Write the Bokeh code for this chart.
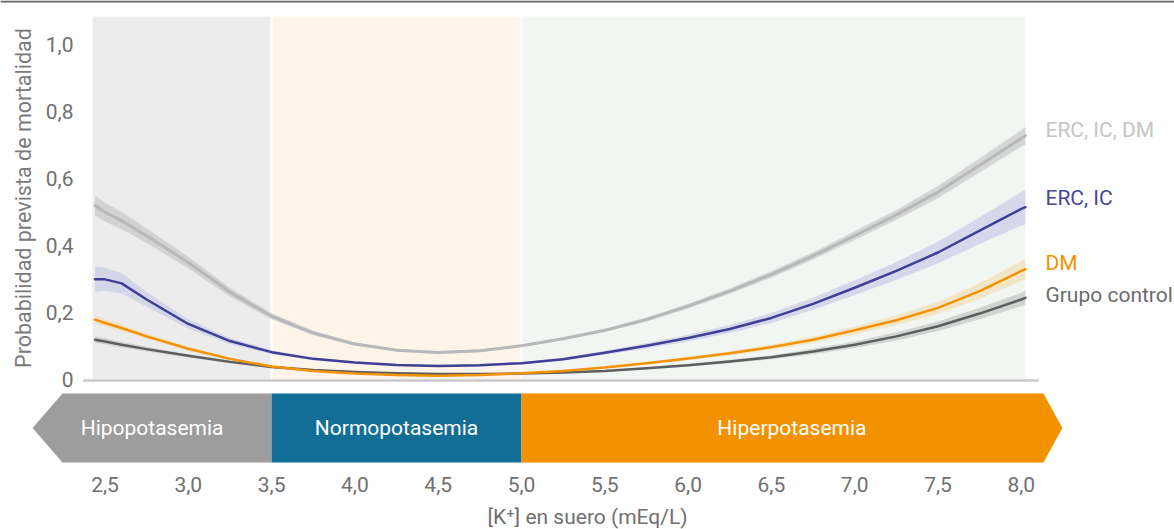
import math
from bokeh.plotting import figure
from bokeh.models import Range1d, FixedTicker, ColumnDataSource, Span
from bokeh.core.properties import value
from bokeh.embed import file_html
from bokeh.resources import INLINE

# ---------------- data ----------------
k = [2.44, 2.5, 2.6, 2.75, 3.0, 3.25, 3.5, 3.75, 4.0, 4.25, 4.5, 4.75, 5.0,
     5.25, 5.5, 5.75, 6.0, 6.25, 6.5, 6.75, 7.0, 7.25, 7.5, 7.75, 8.0, 8.025]

erc_ic_dm = [0.52, 0.50, 0.475, 0.43, 0.35, 0.262, 0.19, 0.14, 0.107, 0.089, 0.082, 0.087, 0.102,
             0.123, 0.148, 0.18, 0.22, 0.265, 0.315, 0.37, 0.43, 0.492, 0.56, 0.64, 0.72, 0.728]
erc_ic_dm_ci = [0.03, 0.028, 0.026, 0.022, 0.017, 0.013, 0.009, 0.007, 0.005, 0.004, 0.004, 0.004, 0.004,
                0.004, 0.005, 0.006, 0.007, 0.008, 0.01, 0.011, 0.013, 0.015, 0.018, 0.021, 0.025, 0.026]

erc_ic = [0.30, 0.30, 0.288, 0.24, 0.167, 0.116, 0.083, 0.063, 0.052, 0.045, 0.042, 0.044, 0.05,
          0.062, 0.081, 0.102, 0.125, 0.152, 0.185, 0.227, 0.275, 0.325, 0.38, 0.445, 0.51, 0.515]
erc_ic_ci = [0.038, 0.035, 0.03, 0.022, 0.014, 0.009, 0.006, 0.004, 0.003, 0.003, 0.003, 0.003, 0.003,
             0.004, 0.006, 0.008, 0.01, 0.012, 0.015, 0.018, 0.022, 0.027, 0.032, 0.04, 0.05, 0.051]

dm = [0.18, 0.17, 0.155, 0.13, 0.093, 0.063, 0.04, 0.027, 0.019, 0.015, 0.013, 0.015, 0.02,
      0.027, 0.037, 0.05, 0.064, 0.08, 0.098, 0.12, 0.148, 0.178, 0.215, 0.265, 0.325, 0.33]
dm_ci = [0.012, 0.011, 0.01, 0.008, 0.006, 0.004, 0.003, 0.002, 0.002, 0.002, 0.002, 0.002, 0.002,
         0.002, 0.003, 0.004, 0.005, 0.006, 0.008, 0.01, 0.012, 0.015, 0.018, 0.023, 0.03, 0.031]

control = [0.12, 0.115, 0.105, 0.092, 0.072, 0.054, 0.039, 0.03, 0.024, 0.02, 0.018, 0.018, 0.019,
           0.022, 0.027, 0.035, 0.044, 0.055, 0.068, 0.085, 0.105, 0.13, 0.16, 0.198, 0.24, 0.245]
control_ci = [0.01, 0.009, 0.008, 0.007, 0.005, 0.004, 0.003, 0.002, 0.002, 0.002, 0.002, 0.002, 0.002,
              0.002, 0.002, 0.003, 0.004, 0.005, 0.006, 0.008, 0.01, 0.012, 0.014, 0.017, 0.02, 0.021]

series_names = ["ERC, IC, DM", "ERC, IC", "DM", "Grupo control"]

zone_names = ["Hipopotasemia", "Normopotasemia", "Hiperpotasemia"]
zone_low = 3.5
zone_high = 5.0

x_ticks = [2.5, 3.0, 3.5, 4.0, 4.5, 5.0, 5.5, 6.0, 6.5, 7.0, 7.5, 8.0]
x_tick_labels = ["2,5", "3,0", "3,5", "4,0", "4,5", "5,0", "5,5", "6,0", "6,5", "7,0", "7,5", "8,0"]
y_ticks = [0, 0.2, 0.4, 0.6, 0.8, 1.0]
y_tick_labels = ["0", "0,2", "0,4", "0,6", "0,8", "1,0"]

# ---------------- styles / layout constants ----------------
FONT = "Roboto"
TICK_COLOR = "#707070"
line_colors = ["#b8b8b8", "#3f3f96", "#f39200", "#5e5e5e"]
line_widths = [3, 2.5, 2.5, 2.5]
band_colors = ["#c4c4c4", "#c9cce8", "#f3dcae", "#c2c7c3"]
band_alphas = [0.65, 0.7, 0.6, 0.7]
label_colors = ["#c4c4c4", "#46469a", "#f39200", "#6b6b6b"]
bg_colors = ["#ececec", "#fef4e9", "#f1f6f2"]
zone_colors = ["#9d9d9d", "#136e96", "#f39200"]

W, H = 1174, 529
x_start, x_end = 1.8727, 8.9196
y_start, y_end = -0.4456, 1.1311
bg_left, bg_right, bg_top = 2.419, 8.028, 1.0864
axis_right = 8.104
label_x = 8.145
series_label_y = [0.744, 0.541, 0.350, 0.252]
band_bottom, band_top = -0.2459, -0.0402
xaxis_y = -0.2578
ytitle_x, ytitle_y = 2.008, 0.5425
tip = 0.18
arrow_left = 2.245
arrow_right = 8.133

p = figure(width=W, height=H, output_backend="svg", toolbar_location=None,
           x_range=Range1d(x_start, x_end), y_range=Range1d(y_start, y_end),
           min_border_left=0, min_border_right=0, min_border_top=0, min_border_bottom=0)
p.outline_line_color = None
p.grid.visible = False
p.background_fill_color = "white"
p.border_fill_color = "white"

# background zones
p.quad(left=[bg_left, zone_low, zone_high], right=[zone_low, zone_high, bg_right],
       bottom=[0.0, 0.0, 0.0], top=[bg_top] * 3, fill_color=bg_colors,
       line_color="white", line_width=2)

all_series = [erc_ic_dm, erc_ic, dm, control]
all_ci = [erc_ic_dm_ci, erc_ic_ci, dm_ci, control_ci]
for vals, ci, bc, ba in zip(all_series, all_ci, band_colors, band_alphas):
    lower = [v - c for v, c in zip(vals, ci)]
    upper = [v + c for v, c in zip(vals, ci)]
    p.varea(x=k, y1=lower, y2=upper, fill_color=bc, fill_alpha=ba)

for idx in [0, 1, 3, 2]:
    p.line(k, all_series[idx], line_color=line_colors[idx], line_width=line_widths[idx],
           line_cap="round", line_join="round")

# x axis baseline of the plot area
p.segment(x0=[bg_left - 0.05], y0=[-0.0015], x1=[axis_right], y1=[-0.0015],
          line_color="#c9c9c9", line_width=2.5)

# top rule
p.add_layout(Span(location=y_end - 1.0 / 335.5, dimension="width", line_color="#666666", line_width=2))

lab_src = ColumnDataSource(dict(x=[label_x] * 4, y=series_label_y, t=series_names, c=label_colors))
p.text(x="x", y="y", text="t", text_color="c", source=lab_src, text_font=value(FONT),
       text_font_size="21px", text_align="left", text_baseline="middle")

# y title
p.text(x=[ytitle_x], y=[ytitle_y], text=["Probabilidad prevista de mortalidad"], angle=math.pi / 2,
       text_color="#7a7a7a", text_font=value(FONT), text_font_size="21.5px",
       text_align="center", text_baseline="middle")

# zone arrows
xs = [[arrow_left - tip, arrow_left, zone_low, zone_low, arrow_left],
      [zone_low, zone_high, zone_high, zone_low],
      [zone_high, arrow_right, arrow_right + tip * 0.63, arrow_right, zone_high]]
bm = (band_top + band_bottom) / 2
ys = [[bm, band_top, band_top, band_bottom, band_bottom],
      [band_top, band_top, band_bottom, band_bottom],
      [band_top, band_top, bm, band_bottom, band_bottom]]
p.patches(xs=xs, ys=ys, fill_color=zone_colors, line_color=None)

zone_centers = [(arrow_left - tip + zone_low) / 2, (zone_low + zone_high) / 2,
                (zone_high + arrow_right + tip * 0.63) / 2]
p.text(x=zone_centers, y=[bm] * 3, text=zone_names, text_color="white",
       text_font=value(FONT), text_font_size="21px", text_align="center", text_baseline="middle")

# axes at fixed locations inside the frame
p.yaxis.fixed_location = bg_left
p.yaxis.ticker = FixedTicker(ticks=y_ticks)
p.yaxis.major_label_overrides = {t: l for t, l in zip(y_ticks, y_tick_labels)}
p.yaxis.axis_line_color = None
p.yaxis.major_tick_line_color = None
p.yaxis.minor_tick_line_color = None
p.yaxis.major_label_standoff = 12
p.yaxis.major_label_text_font = FONT
p.yaxis.major_label_text_font_size = "21px"
p.yaxis.major_label_text_color = TICK_COLOR

p.xaxis.fixed_location = xaxis_y
p.xaxis.ticker = FixedTicker(ticks=x_ticks)
p.xaxis.major_label_overrides = {t: l for t, l in zip(x_ticks, x_tick_labels)}
p.xaxis.axis_line_color = None
p.xaxis.major_tick_line_color = None
p.xaxis.minor_tick_line_color = None
p.xaxis.major_label_standoff = 5
p.xaxis.major_label_text_font = FONT
p.xaxis.major_label_text_font_size = "21px"
p.xaxis.major_label_text_color = TICK_COLOR
p.xaxis.axis_label = "[K⁺] en suero (mEq/L)"
p.xaxis.axis_label_text_font = FONT
p.xaxis.axis_label_text_font_size = "21px"
p.xaxis.axis_label_text_font_style = "normal"
p.xaxis.axis_label_text_color = TICK_COLOR
p.xaxis.axis_label_standoff = 9

open("out.html", "w").write(file_html(p, INLINE))
